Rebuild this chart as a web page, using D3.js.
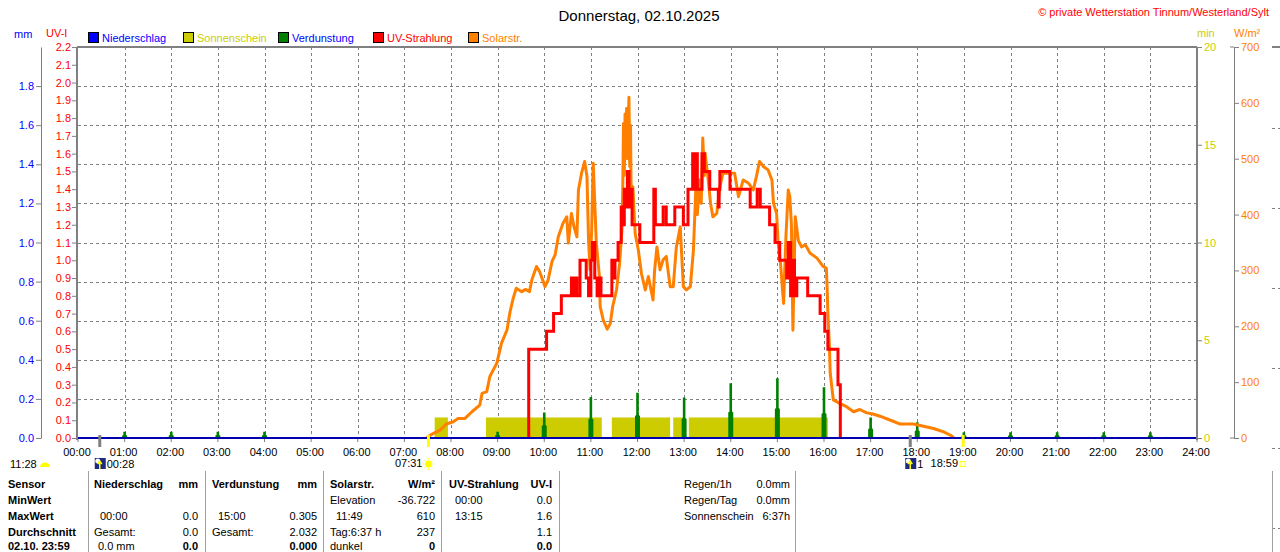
<!DOCTYPE html>
<html>
<head>
<meta charset="utf-8">
<script src="https://cdn.jsdelivr.net/npm/d3@7"></script>
<style>
  body { margin: 0; background: #fff; }
  svg { display: block; font-family: "Liberation Sans", Arial, sans-serif; }
</style>
</head>
<body>
<div id="chart"></div>
<script>
// --- Werte ---
const hourLabels = ["00:00","01:00","02:00","03:00","04:00","05:00","06:00","07:00","08:00","09:00","10:00","11:00","12:00",
  "13:00","14:00","15:00","16:00","17:00","18:00","19:00","20:00","21:00","22:00","23:00","24:00"];
const mmTicks = [0, 0.2, 0.4, 0.6, 0.8, 1.0, 1.2, 1.4, 1.6, 1.8];
const uvTicks = [0, 0.1, 0.2, 0.3, 0.4, 0.5, 0.6, 0.7, 0.8, 0.9, 1.0, 1.1, 1.2, 1.3, 1.4, 1.5, 1.6, 1.7, 1.8, 1.9, 2.0, 2.1, 2.2];
const minTicks = [0, 5, 10, 15, 20];
const wTicks = [0, 100, 200, 300, 400, 500, 600, 700];

// Solarstrahlung W/m²
const solar = [
  ["07:29",0],["07:30",2],["07:37",8],["07:46",14],["07:54",25],["08:03",29],["08:09",35],["08:18",35],["08:27",47],
  ["08:37",59],["08:40",80],["08:46",83],["08:50",110],["08:59",134],["09:05",170],["09:12",193],["09:16",226],["09:20",250],
  ["09:24",268],["09:31",262],["09:36",266],["09:41",262],["09:44",283],["09:50",307],["09:54",298],["10:01",271],["10:05",283],
  ["10:10",316],["10:14",328],["10:18",360],["10:24",384],["10:29",396],["10:31",349],["10:35",402],["10:38",380],["10:42",360],
  ["10:44",444],["10:48",474],["10:52",495],["10:55",468],["10:57",354],["10:59",301],["11:01",372],["11:03",492],["11:07",349],
  ["11:11",289],["11:12",235],["11:16",211],["11:21",195],["11:25",205],["11:28",235],["11:33",265],["11:37",313],["11:40",372],
  ["11:41",444],["11:42",563],["11:43",470],["11:44",580],["11:45",516],["11:46",590],["11:47",500],["11:49",610],["11:50",486],
  ["11:51",560],["11:52",414],["11:54",450],["11:57",366],["12:01",337],["12:05",295],["12:10",265],["12:14",289],["12:20",247],
  ["12:22",300],["12:25",342],["12:29",301],["12:33",319],["12:37",325],["12:42",271],["12:46",271],["12:50",342],["12:55",378],
  ["12:59",271],["13:03",265],["13:08",271],["13:12",337],["13:15",444],["13:17",400],["13:20",462],["13:22",420],["13:24",537],
  ["13:26",470],["13:27",510],["13:31",462],["13:34",420],["13:37",396],["13:42",402],["13:46",450],["13:50",474],["13:59",474],
  ["14:05",474],["14:10",432],["14:16",462],["14:23",456],["14:29",444],["14:33",468],["14:37",495],["14:42",486],["14:48",480],
  ["14:53",462],["14:55",420],["14:59",402],["15:01",349],["15:04",313],["15:08",241],["15:11",360],["15:14",444],["15:16",432],
  ["15:18",384],["15:20",193],["15:23",396],["15:27",354],["15:31",342],["15:36",346],["15:42",331],["15:51",322],["15:59",307],
  ["16:03",304],["16:04",271],["16:05",223],["16:07",163],["16:08",116],["16:10",92],["16:12",68],["16:16",65],["16:20",62],
  ["16:29",56],["16:38",47],["16:46",51],["16:55",45],["17:03",43],["17:12",39],["17:29",30],["17:38",25],["17:55",25],
  ["18:08",21],["18:21",17],["18:34",11],["18:44",4],["18:47",0]
];

// UV-Index (Stufen)
const uv = [
  ["09:40",0],["09:40",0.5],["10:03",0.6],["10:12",0.7],["10:22",0.8],["10:35",0.9],["10:37",0.8],["10:40",0.9],["10:42",0.8],
  ["10:46",1.0],["10:54",0.9],["10:57",0.8],["11:00",1.0],["11:02",1.1],["11:05",0.9],["11:08",0.8],["11:11",0.9],["11:13",0.8],
  ["11:27",1.0],["11:29",0.9],["11:31",1.0],["11:35",1.1],["11:39",1.3],["11:41",1.2],["11:43",1.4],["11:45",1.3],["11:47",1.5],
  ["11:49",1.3],["11:51",1.4],["11:53",1.2],["12:03",1.1],["12:21",1.4],["12:23",1.2],["12:33",1.3],["12:37",1.2],["12:48",1.3],
  ["12:59",1.2],["13:05",1.4],["13:11",1.6],["13:13",1.4],["13:15",1.6],["13:17",1.4],["13:23",1.6],["13:26",1.5],["13:33",1.4],
  ["13:44",1.3],["13:45",1.4],["13:46",1.5],["13:59",1.4],["14:25",1.3],["14:34",1.4],["14:38",1.3],["14:50",1.2],["14:57",1.1],
  ["15:03",1.0],["15:12",0.9],["15:14",1.1],["15:17",0.8],["15:19",1.0],["15:22",0.8],["15:25",0.9],["15:39",0.8],["15:55",0.7],
  ["16:01",0.6],["16:05",0.5],["16:18",0.3],["16:21",0]
];

// Sonnenschein: [von, bis, min]
const sunshine = [
  ["07:39","07:56",1.05],["08:45","11:14",1.05],["11:27","12:42",1.05],["12:46","13:01",1.05],["13:06","16:05",1.05]
];

// Verdunstung: [Zeit, Spitze mm, Sockel mm]
const evaporation = [
  ["01:00",0.032,0.016],["02:00",0.032,0.016],["03:00",0.032,0.016],["04:00",0.032,0.016],["09:00",0.032,0.016],
  ["10:00",0.130,0.066],["11:00",0.210,0.100],["12:00",0.232,0.118],["13:00",0.207,0.102],["14:00",0.280,0.135],
  ["15:00",0.305,0.153],["16:00",0.260,0.128],["17:00",0.105,0.050],["18:00",0.080,0.040],["19:00",0.029,0.015],
  ["20:00",0.030,0.015],["21:00",0.030,0.015],["22:00",0.030,0.015],["23:00",0.030,0.015]
];

// Auf-/Untergang
const events = [
  { time: "00:28", kind: "moonrise", label: "00:28" },
  { time: "07:31", kind: "sunrise", label: "07:31" },
  { time: "17:51", kind: "moonset", label: "1" },
  { time: "18:59", kind: "sunset", label: "18:59" }
];

const legendItems = [
  { name: "Niederschlag", box: "#0000ff", text: "#0000ff" },
  { name: "Sonnenschein", box: "#cccc00", text: "#cccc00" },
  { name: "Verdunstung", box: "#008000", text: "#0000ff" },
  { name: "UV-Strahlung", box: "#ff0000", text: "#ff0000" },
  { name: "Solarstr.", box: "#ff8000", text: "#ff8000" }
];

const tableHeader = [["Sensor",""],["Niederschlag","mm"],["Verdunstung","mm"],["Solarstr.","W/m²"],["UV-Strahlung","UV-I"]];
const rowLabels = ["MinWert","MaxWert","Durchschnitt","02.10. 23:59"];
const niederschlagCells = [["",""],["00:00","0.0"],["Gesamt:","0.0"],["0.0 mm","0.0"]];
const verdunstungCells = [["",""],["15:00","0.305"],["Gesamt:","2.032"],["","0.000"]];
const solarCells = [["Elevation","-36.722"],["11:49","610"],["Tag:6:37 h","237"],["dunkel","0"]];
const uvCells = [["00:00","0.0"],["13:15","1.6"],["","1.1"],["","0.0"]];
const infoRows = [["Regen/1h","0.0mm"],["Regen/Tag","0.0mm"],["Sonnenschein","6:37h"]];

// --- Zeichnen ---
const width = 1280, height = 552;
const plot = { left: 78, right: 1197, top: 47, bottom: 438 };
const grey = "#808080";

const svg = d3.select("#chart").append("svg").attr("width", width).attr("height", height);

const toH = s => { const p = s.split(":").map(Number); return p[0] + p[1] / 60; };

const x = d3.scaleLinear().domain([0, 24]).range([plot.left, plot.right]);
const yMM = d3.scaleLinear().domain([0, 2]).range([plot.bottom, plot.top]);
const yUV = d3.scaleLinear().domain([0, 2.2]).range([plot.bottom, plot.top]);
const yMin = d3.scaleLinear().domain([0, 20]).range([plot.bottom, plot.top]);
const yW = d3.scaleLinear().domain([0, 700]).range([plot.bottom, plot.top]);

// Gitter
const grid = svg.append("g").attr("stroke", grey).attr("stroke-dasharray", "3,3").attr("shape-rendering", "crispEdges");
grid.selectAll(".h").data(mmTicks.filter(d => d > 0)).join("line").attr("class", "h")
  .attr("x1", plot.left).attr("x2", plot.right)
  .attr("y1", d => Math.round(yMM(d)) + 0.5).attr("y2", d => Math.round(yMM(d)) + 0.5);
grid.selectAll(".v").data(hourLabels.slice(1, 24)).join("line").attr("class", "v")
  .attr("x1", d => Math.round(x(toH(d))) + 0.5).attr("x2", d => Math.round(x(toH(d))) + 0.5)
  .attr("y1", plot.top).attr("y2", plot.bottom);

// Sonnenschein
svg.append("g").selectAll("rect").data(sunshine).join("rect")
  .attr("x", d => x(toH(d[0]))).attr("width", d => x(toH(d[1])) - x(toH(d[0])))
  .attr("y", d => yMin(d[2])).attr("height", d => plot.bottom - yMin(d[2]))
  .attr("fill", "#cccc00");

// Verdunstung
svg.append("g").selectAll("path").data(evaporation).join("path")
  .attr("fill", "#008000")
  .attr("d", d => {
    const cx = x(toH(d[0])), b = plot.bottom, s = yMM(d[2]), p = yMM(d[1]);
    return `M${cx - 2.5},${b}L${cx - 2.5},${s + 1}L${cx - 1.3},${s}L${cx - 1.3},${p}L${cx + 1.3},${p}L${cx + 1.3},${s}L${cx + 2.5},${s + 1}L${cx + 2.5},${b}Z`;
  });

// Solarstrahlung
svg.append("path").datum(solar)
  .attr("fill", "none").attr("stroke", "#ff8000").attr("stroke-width", 3).attr("stroke-linejoin", "round")
  .attr("d", d3.line().x(d => x(toH(d[0]))).y(d => yW(d[1])));

// UV
svg.append("path").datum(uv)
  .attr("fill", "none").attr("stroke", "#ff0000").attr("stroke-width", 3)
  .attr("d", d3.line().curve(d3.curveStepAfter).x(d => x(toH(d[0]))).y(d => yUV(d[1])));

// Niederschlag-Nulllinie
svg.append("line").attr("x1", plot.left).attr("x2", plot.right).attr("y1", plot.bottom).attr("y2", plot.bottom)
  .attr("stroke", "#0000b0").attr("stroke-width", 2);

// Rahmen
const frame = svg.append("g").attr("stroke", grey).attr("stroke-width", 2).attr("shape-rendering", "crispEdges");
frame.append("line").attr("x1", plot.left - 1).attr("x2", plot.right).attr("y1", plot.top).attr("y2", plot.top);
frame.append("line").attr("x1", plot.left - 1).attr("x2", plot.left - 1).attr("y1", plot.top).attr("y2", plot.bottom + 2);
frame.append("line").attr("x1", plot.right).attr("x2", plot.right).attr("y1", plot.top).attr("y2", plot.bottom + 2);

function styleAxis(g, color) {
  g.attr("font-family", "Liberation Sans, Arial, sans-serif").attr("font-size", 11);
  g.selectAll("line,path").attr("stroke", grey);
  g.selectAll("text").attr("fill", color);
}

// mm-Achse
svg.append("g").attr("transform", "translate(41,0)")
  .call(d3.axisLeft(yMM).tickValues(mmTicks).tickFormat(d3.format(".1f")).tickSize(5).tickSizeOuter(0).tickPadding(2))
  .call(g => styleAxis(g, "#0000ff"));

// UV-Achse
svg.append("g").attr("transform", `translate(${plot.left - 1},0)`)
  .call(d3.axisLeft(yUV).tickValues(uvTicks).tickFormat(d3.format(".1f")).tickSize(5).tickSizeOuter(0).tickPadding(1))
  .call(g => g.select(".domain").remove())
  .call(g => styleAxis(g, "#ff0000"));

// min-Achse
svg.append("g").attr("transform", `translate(${plot.right},0)`)
  .call(d3.axisRight(yMin).tickValues(minTicks).tickSize(5).tickSizeOuter(0).tickPadding(2))
  .call(g => g.select(".domain").remove())
  .call(g => styleAxis(g, "#cccc00"));

// W/m²-Achse
const gW = svg.append("g").attr("transform", "translate(1234,0)")
  .call(d3.axisRight(yW).tickValues(wTicks).tickSize(5).tickSizeOuter(0).tickPadding(2))
  .call(g => styleAxis(g, "#ff8000"));
gW.selectAll(".cap").data([0, 700]).join("line").attr("class", "cap")
  .attr("x1", -4).attr("x2", 0).attr("y1", d => yW(d)).attr("y2", d => yW(d)).attr("stroke", grey);

// Zeitachse
const xa = svg.append("g").attr("font-size", 11).attr("fill", "#000");
xa.selectAll("line").data(hourLabels).join("line")
  .attr("x1", d => x(toH(d))).attr("x2", d => x(toH(d)))
  .attr("y1", plot.bottom + 1).attr("y2", plot.bottom + 4).attr("stroke", grey);
xa.selectAll("text").data(hourLabels).join("text")
  .attr("x", d => x(toH(d)) - 1).attr("y", 456).attr("text-anchor", "middle").text(d => d);

// Ereignisse
const ev = svg.append("g").attr("font-size", 11);
events.forEach(e => {
  const ex = x(toH(e.time));
  const isSun = e.kind.startsWith("sun");
  ev.append("rect").attr("x", ex - 1.5).attr("y", 435).attr("width", 3).attr("height", 12)
    .attr("fill", isSun ? "#ffff00" : grey);
  if (e.kind === "sunrise") {
    ev.append("text").attr("x", ex - 6).attr("y", 467).attr("text-anchor", "end").text(e.label);
    const sun = ev.append("g").attr("transform", `translate(${ex},464)`);
    d3.range(8).forEach(i => {
      const a = i * Math.PI / 4;
      sun.append("line").attr("x1", Math.cos(a) * 4).attr("y1", Math.sin(a) * 4)
        .attr("x2", Math.cos(a) * 6).attr("y2", Math.sin(a) * 6).attr("stroke", "#ffff40");
    });
    sun.append("circle").attr("r", 3.5).attr("fill", "#ffff00");
  } else if (e.kind === "sunset") {
    ev.append("text").attr("x", ex - 5).attr("y", 467).attr("text-anchor", "end").text(e.label);
    ev.append("rect").attr("x", ex - 3).attr("y", 461.5).attr("width", 5).attr("height", 5)
      .attr("fill", "none").attr("stroke", "#ffff00");
  } else {
    const ix = ex - 5;
    ev.append("rect").attr("x", ix).attr("y", 458).attr("width", 11).attr("height", 11).attr("fill", "#1c2a80");
    ev.append("circle").attr("cx", ix + 3).attr("cy", 461).attr("r", 2.5).attr("fill", "#ffffff");
    ev.append("path").attr("d", `M${ix + 5},469L${ix + 5},462M${ix + 3},464L${ix + 5},461L${ix + 7},464`)
      .attr("stroke", "#ffff00").attr("stroke-width", 1.5).attr("fill", "none");
    ev.append("text").attr("x", ix + 12).attr("y", 468).text(e.label);
  }
});
ev.append("text").attr("x", 10).attr("y", 468).text("11:28");
ev.append("path").attr("d", "M40,467A5,4.5 0 0 1 50,467Z").attr("fill", "#ffff00");

// Titel und Beschriftung
svg.append("text").attr("x", 639).attr("y", 21).attr("text-anchor", "middle")
  .attr("font-size", 15).attr("fill", "#000").text("Donnerstag, 02.10.2025");
svg.append("text").attr("x", 1269).attr("y", 16).attr("text-anchor", "end")
  .attr("font-size", 11).attr("fill", "#ff0000").text("© private Wetterstation Tinnum/Westerland/Sylt");

const units = svg.append("g").attr("font-size", 11);
units.append("text").attr("x", 14).attr("y", 38).attr("fill", "#0000ff").text("mm");
units.append("text").attr("x", 46).attr("y", 37).attr("fill", "#ff0000").text("UV-I");
units.append("text").attr("x", 1197).attr("y", 37).attr("fill", "#cccc00").text("min");
units.append("text").attr("x", 1234).attr("y", 37).attr("fill", "#ff8000").text("W/m²");

// Legende
const lg = svg.append("g").attr("font-size", 11).selectAll("g").data(legendItems).join("g")
  .attr("transform", (d, i) => `translate(${88 + i * 95},32)`);
lg.append("rect").attr("x", 0.5).attr("y", 0.5).attr("width", 10).attr("height", 10)
  .attr("fill", d => d.box).attr("stroke", "#000");
lg.append("text").attr("x", 14).attr("y", 10).attr("fill", d => d.text).text(d => d.name);

// rechter Rand (Nachbargrafik)
const edge = svg.append("g").attr("stroke", grey);
edge.append("line").attr("x1", 1272).attr("x2", 1280).attr("y1", 47).attr("y2", 47).attr("stroke-width", 2);
edge.selectAll(".d").data([128, 208, 288, 368, 448, 528]).join("line").attr("class", "d")
  .attr("x1", 1272).attr("x2", 1280).attr("y1", d => d + 0.5).attr("y2", d => d + 0.5).attr("stroke-dasharray", "3,3");

// Tabelle
const tbl = svg.append("g").attr("font-size", 11).attr("fill", "#000");
const seps = [88, 205, 323, 441, 559, 795, 1272];
tbl.selectAll("line").data(seps).join("line")
  .attr("x1", d => d + 0.5).attr("x2", d => d + 0.5).attr("y1", 471).attr("y2", height)
  .attr("stroke", "#a0a0a0");

const cols = [{ l: 8, r: 80 }, { l: 94, r: 198 }, { l: 212, r: 317 }, { l: 330, r: 435 }, { l: 449, r: 552 }];
const rowY = [504, 520, 536, 550];
tableHeader.forEach((h, i) => {
  tbl.append("text").attr("x", cols[i].l).attr("y", 488).attr("font-weight", "bold").text(h[0]);
  if (h[1]) tbl.append("text").attr("x", cols[i].r).attr("y", 488).attr("text-anchor", "end").attr("font-weight", "bold").text(h[1]);
});
rowLabels.forEach((r, j) => {
  tbl.append("text").attr("x", cols[0].l).attr("y", rowY[j]).attr("font-weight", "bold").text(r);
});
[niederschlagCells, verdunstungCells, solarCells, uvCells].forEach((cells, c) => {
  const col = cols[c + 1];
  cells.forEach((cell, j) => {
    const indent = /^\d\d:\d\d$/.test(cell[0]) ? 6 : (cell[0] === "0.0 mm" ? 4 : 0);
    if (cell[0]) tbl.append("text").attr("x", col.l + indent).attr("y", rowY[j]).text(cell[0]);
    if (cell[1]) tbl.append("text").attr("x", col.r).attr("y", rowY[j]).attr("text-anchor", "end")
      .attr("font-weight", j === 3 ? "bold" : "normal").text(cell[1]);
  });
});
infoRows.forEach((r, j) => {
  tbl.append("text").attr("x", 684).attr("y", 488 + j * 16).text(r[0]);
  tbl.append("text").attr("x", 790).attr("y", 488 + j * 16).attr("text-anchor", "end").text(r[1]);
});
</script>
</body>
</html>
